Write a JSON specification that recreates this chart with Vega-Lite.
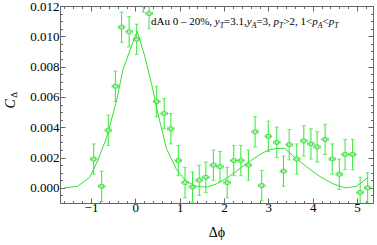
{
  "$schema": "https://vega.github.io/schema/vega-lite/v6.json",
  "width": 313,
  "height": 197,
  "autosize": "none",
  "padding": {"left": 60, "top": 6, "right": 4, "bottom": 42},
  "config": {
    "view": {"stroke": "#666", "strokeWidth": 1},
    "font": "Liberation Serif",
    "axis": {
      "labelFont": "Liberation Serif",
      "labelFontSize": 13,
      "labelColor": "#000",
      "domainColor": "#666",
      "tickColor": "#666",
      "grid": false,
      "titleFont": "Liberation Serif",
      "titleFontWeight": "normal",
      "titleColor": "#000"
    }
  },
  "datasets": {
    "points": [
      {"x": -0.94, "y": 0.0019, "ey": 0.001, "ex": 0.075},
      {"x": -0.76, "y": 0.0001, "ey": 0.001, "ex": 0.075},
      {"x": -0.61, "y": 0.0038, "ey": 0.001, "ex": 0.075},
      {"x": -0.45, "y": 0.0067, "ey": 0.001, "ex": 0.075},
      {"x": -0.31, "y": 0.0106, "ey": 0.001, "ex": 0.075},
      {"x": -0.14, "y": 0.0103, "ey": 0.001, "ex": 0.075},
      {"x": 0.03, "y": 0.0098, "ey": 0.001, "ex": 0.075},
      {"x": 0.18, "y": 0.0126, "ey": 0.001, "ex": 0.075},
      {"x": 0.31, "y": 0.0115, "ey": 0.001, "ex": 0.075},
      {"x": 0.48, "y": 0.0057, "ey": 0.001, "ex": 0.075},
      {"x": 0.65, "y": 0.0049, "ey": 0.001, "ex": 0.075},
      {"x": 0.80, "y": 0.0039, "ey": 0.001, "ex": 0.075},
      {"x": 0.97, "y": 0.0018, "ey": 0.001, "ex": 0.075},
      {"x": 1.12, "y": 0.00035, "ey": 0.001, "ex": 0.075},
      {"x": 1.29, "y": 0.00005, "ey": 0.001, "ex": 0.075},
      {"x": 1.44, "y": 0.0005, "ey": 0.001, "ex": 0.075},
      {"x": 1.59, "y": 0.0007, "ey": 0.001, "ex": 0.075},
      {"x": 1.76, "y": 0.0015, "ey": 0.001, "ex": 0.075},
      {"x": 1.91, "y": 0.0014, "ey": 0.001, "ex": 0.075},
      {"x": 2.07, "y": 0.00035, "ey": 0.001, "ex": 0.075},
      {"x": 2.22, "y": 0.0018, "ey": 0.001, "ex": 0.075},
      {"x": 2.38, "y": 0.0018, "ey": 0.001, "ex": 0.075},
      {"x": 2.55, "y": 0.0015, "ey": 0.001, "ex": 0.075},
      {"x": 2.70, "y": 0.0037, "ey": 0.001, "ex": 0.075},
      {"x": 2.85, "y": 0.00015, "ey": 0.001, "ex": 0.075},
      {"x": 3.00, "y": 0.0034, "ey": 0.001, "ex": 0.075},
      {"x": 3.19, "y": 0.0030, "ey": 0.001, "ex": 0.075},
      {"x": 3.34, "y": 0.0011, "ey": 0.001, "ex": 0.075},
      {"x": 3.47, "y": 0.00285, "ey": 0.001, "ex": 0.075},
      {"x": 3.64, "y": 0.0019, "ey": 0.001, "ex": 0.075},
      {"x": 3.80, "y": 0.0031, "ey": 0.001, "ex": 0.075},
      {"x": 3.96, "y": 0.0029, "ey": 0.001, "ex": 0.075},
      {"x": 4.10, "y": 0.0027, "ey": 0.001, "ex": 0.075},
      {"x": 4.28, "y": 0.0032, "ey": 0.001, "ex": 0.075},
      {"x": 4.44, "y": 0.0019, "ey": 0.001, "ex": 0.075},
      {"x": 4.60, "y": 0.0009, "ey": 0.001, "ex": 0.075},
      {"x": 4.73, "y": 0.0022, "ey": 0.001, "ex": 0.075},
      {"x": 4.90, "y": 0.0022, "ey": 0.001, "ex": 0.075},
      {"x": 5.07, "y": -0.0003, "ey": 0.001, "ex": 0.075},
      {"x": 5.24, "y": 0.0000, "ey": 0.001, "ex": 0.075}
    ],
    "curve": [
      {"x": -1.60, "y": 0.0},
      {"x": -1.30, "y": 0.0001},
      {"x": -1.03, "y": 0.0007},
      {"x": -0.84, "y": 0.00185},
      {"x": -0.65, "y": 0.0033},
      {"x": -0.42, "y": 0.0058},
      {"x": -0.28, "y": 0.0078},
      {"x": -0.12, "y": 0.0091},
      {"x": 0.04, "y": 0.01035},
      {"x": 0.21, "y": 0.0087},
      {"x": 0.37, "y": 0.0068},
      {"x": 0.50, "y": 0.0050},
      {"x": 0.70, "y": 0.0026},
      {"x": 0.93, "y": 0.0012},
      {"x": 1.16, "y": 0.0004},
      {"x": 1.38, "y": 0.0001},
      {"x": 1.61, "y": 0.00005},
      {"x": 1.83, "y": 0.00026},
      {"x": 2.06, "y": 0.00064},
      {"x": 2.28, "y": 0.0011},
      {"x": 2.51, "y": 0.0016},
      {"x": 2.81, "y": 0.0022},
      {"x": 3.00, "y": 0.0025},
      {"x": 3.19, "y": 0.0026},
      {"x": 3.37, "y": 0.0026},
      {"x": 3.56, "y": 0.0021},
      {"x": 3.86, "y": 0.0014},
      {"x": 4.16, "y": 0.00075},
      {"x": 4.47, "y": 0.00025},
      {"x": 4.73, "y": 0.0},
      {"x": 4.99, "y": 0.0001},
      {"x": 5.23, "y": 0.00065}
    ],
    "upright": [
      {"t": "dAu 0 \u2013 20%,", "x": 0.352},
      {"t": "=3.1,", "x": 2.001},
      {"t": "=3,", "x": 2.730},
      {"t": ">2, 1<", "x": 3.339},
      {"t": "<", "x": 4.221}
    ],
    "italic": [
      {"t": "y", "x": 1.793},
      {"t": "y", "x": 2.513},
      {"t": "p", "x": 3.118},
      {"t": "p", "x": 3.990},
      {"t": "p", "x": 4.361}
    ],
    "subs": [
      {"t": "T", "x": 1.904},
      {"t": "A", "x": 2.624},
      {"t": "T", "x": 3.242},
      {"t": "A", "x": 4.115},
      {"t": "T", "x": 4.485}
    ],
    "ytitle": [{"t": "C", "x": -2.81, "y": 0.00554}],
    "ytitlesub": [{"t": "\u0394", "x": -2.74, "y": 0.00614}]
  },
  "layer": [
    {
      "mark": {"type": "rule", "color": "#c8c8c8", "strokeWidth": 1},
      "encoding": {
        "y": {"datum": 0, "type": "quantitative", "scale": {"domain": [-0.001, 0.012], "nice": false, "zero": false}, "axis": null}
      }
    },
    {
      "data": {"name": "curve"},
      "mark": {"type": "line", "color": "#33e033", "strokeWidth": 1, "clip": true},
      "encoding": {
        "x": {
          "field": "x", "type": "quantitative",
          "scale": {"domain": [-1.7, 5.36], "nice": false, "zero": false},
          "axis": {
            "orient": "bottom",
            "values": [-1.6,-1.4,-1.2,-1,-0.8,-0.6,-0.4,-0.2,0,0.2,0.4,0.6,0.8,1,1.2,1.4,1.6,1.8,2,2.2,2.4,2.6,2.8,3,3.2,3.4,3.6,3.8,4,4.2,4.4,4.6,4.8,5,5.2],
            "labelExpr": "abs(datum.value - round(datum.value)) < 0.001 ? format(datum.value, 'd') : ''",
            "tickSize": {"condition": {"test": "abs(datum.value - round(datum.value)) < 0.001", "value": -5}, "value": -2.5},
            "labelPadding": 3,
            "title": "\u0394\u03d5",
            "titleFontSize": 14,
            "titlePadding": 11
          }
        },
        "y": {
          "field": "y", "type": "quantitative",
          "scale": {"domain": [-0.001, 0.012], "nice": false, "zero": false},
          "axis": {
            "orient": "left",
            "values": [-0.001,-0.0005,0,0.0005,0.001,0.0015,0.002,0.0025,0.003,0.0035,0.004,0.0045,0.005,0.0055,0.006,0.0065,0.007,0.0075,0.008,0.0085,0.009,0.0095,0.01,0.0105,0.011,0.0115,0.012],
            "labelExpr": "abs(datum.value/0.002 - round(datum.value/0.002)) < 0.01 ? format(datum.value, '.3f') : ''",
            "tickSize": {"condition": {"test": "abs(datum.value/0.002 - round(datum.value/0.002)) < 0.01", "value": -5}, "value": -2.5},
            "labelPadding": 6,
            "title": null
          }
        }
      }
    },
    {
      "data": {"name": "points"},
      "mark": {"type": "errorbar", "ticks": {"size": 4}, "color": "#33e833", "thickness": 1, "clip": true},
      "encoding": {
        "x": {"field": "x", "type": "quantitative", "axis": null},
        "y": {"field": "y", "type": "quantitative", "axis": null},
        "yError": {"field": "ey"}
      }
    },
    {
      "data": {"name": "points"},
      "mark": {"type": "errorbar", "ticks": {"size": 3}, "color": "#33e833", "thickness": 1, "clip": true},
      "encoding": {
        "x": {"field": "x", "type": "quantitative", "axis": null},
        "xError": {"field": "ex"},
        "y": {"field": "y", "type": "quantitative", "axis": null}
      }
    },
    {
      "data": {"name": "points"},
      "mark": {"type": "square", "size": 14, "filled": true, "fill": "#b0f2b0", "stroke": "#3ad83a", "strokeWidth": 0.8, "opacity": 1, "clip": true},
      "encoding": {
        "x": {
          "field": "x", "type": "quantitative",
          "axis": {
            "orient": "top",
            "values": [-1.6,-1.4,-1.2,-1,-0.8,-0.6,-0.4,-0.2,0,0.2,0.4,0.6,0.8,1,1.2,1.4,1.6,1.8,2,2.2,2.4,2.6,2.8,3,3.2,3.4,3.6,3.8,4,4.2,4.4,4.6,4.8,5,5.2],
            "labels": false,
            "tickSize": {"condition": {"test": "abs(datum.value - round(datum.value)) < 0.001", "value": -5}, "value": -2.5},
            "title": null
          }
        },
        "y": {
          "field": "y", "type": "quantitative",
          "axis": {
            "orient": "right",
            "values": [-0.001,-0.0005,0,0.0005,0.001,0.0015,0.002,0.0025,0.003,0.0035,0.004,0.0045,0.005,0.0055,0.006,0.0065,0.007,0.0075,0.008,0.0085,0.009,0.0095,0.01,0.0105,0.011,0.0115,0.012],
            "labels": false,
            "tickSize": {"condition": {"test": "abs(datum.value/0.002 - round(datum.value/0.002)) < 0.01", "value": -5}, "value": -2.5},
            "title": null
          }
        }
      }
    },
    {
      "data": {"name": "upright"},
      "mark": {"type": "text", "align": "left", "baseline": "alphabetic", "fontSize": 11, "font": "Liberation Serif", "color": "#000"},
      "encoding": {
        "x": {"field": "x", "type": "quantitative", "axis": null},
        "y": {"datum": 0.01072, "type": "quantitative", "axis": null},
        "text": {"field": "t"}
      }
    },
    {
      "data": {"name": "italic"},
      "mark": {"type": "text", "align": "left", "baseline": "alphabetic", "fontSize": 11, "fontStyle": "italic", "font": "Liberation Serif", "color": "#000"},
      "encoding": {
        "x": {"field": "x", "type": "quantitative", "axis": null},
        "y": {"datum": 0.01072, "type": "quantitative", "axis": null},
        "text": {"field": "t"}
      }
    },
    {
      "data": {"name": "subs"},
      "mark": {"type": "text", "align": "left", "baseline": "alphabetic", "fontSize": 7.7, "fontStyle": "italic", "dy": 2.5, "font": "Liberation Serif", "color": "#000"},
      "encoding": {
        "x": {"field": "x", "type": "quantitative", "axis": null},
        "y": {"datum": 0.01072, "type": "quantitative", "axis": null},
        "text": {"field": "t"}
      }
    },
    {
      "data": {"name": "ytitle"},
      "mark": {"type": "text", "align": "center", "baseline": "middle", "angle": 270, "fontSize": 14, "fontStyle": "italic", "font": "Liberation Serif", "color": "#000"},
      "encoding": {
        "x": {"field": "x", "type": "quantitative", "axis": null},
        "y": {"field": "y", "type": "quantitative", "axis": null},
        "text": {"field": "t"}
      }
    },
    {
      "data": {"name": "ytitlesub"},
      "mark": {"type": "text", "align": "center", "baseline": "middle", "angle": 270, "fontSize": 9, "font": "Liberation Serif", "color": "#000"},
      "encoding": {
        "x": {"field": "x", "type": "quantitative", "axis": null},
        "y": {"field": "y", "type": "quantitative", "axis": null},
        "text": {"field": "t"}
      }
    }
  ],
  "resolve": {"axis": {"x": "independent", "y": "independent"}}
}
